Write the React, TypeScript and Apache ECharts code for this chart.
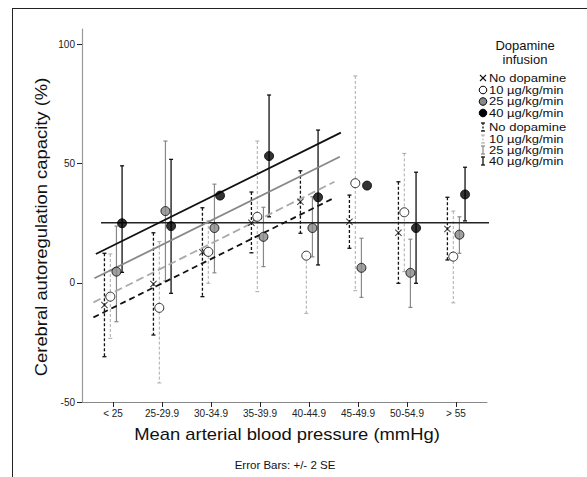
import React, { useEffect, useRef } from "react";
import * as echarts from "echarts";

const categories = ["< 25", "25-29.9", "30-34.9", "35-39.9", "40-44.9", "45-49.9", "50-54.9", "> 55"];

const noDop = [-9.3, -0.5, 12.8, 25.2, 34, 25.6, 21, 22.6];
const noDopLow = [-31, -21.9, -5.8, 12.6, 20.8, 14.5, -0.2, 9.6];
const noDopHigh = [12.4, 21, 31.5, 38.1, 47, 36.8, 42.4, 35.9];

const dop10 = [-5.8, -10.5, 13, 27.7, 11.4, 41.8, 29.6, 11];
const dop10Low = [-23.3, -42, -0.2, -3.7, -12.8, -3.3, 4.7, -8.4];
const dop10High = [12.1, 17.3, 26, 59.5, 11.4, 86.8, 54.3, 30.1];

const dop25 = [4.7, 30.1, 23, 19.3, 23, 6.3, 4.2, 20.2];
const dop25Low = [-16.3, 0.8, 4.2, 6.8, 10.9, -6.1, -10.3, 12.4];
const dop25High = [23.8, 59.5, 41.4, 31.7, 36.1, 18.7, 18.3, 27.7];

const dop40 = [25, 23.8, 36.6, 53.2, 35.9, 40.8, 23, 37.1];
const dop40Low: (number | null)[] = [4.4, -4.4, null, 27.7, 7.5, null, -0.2, 26];
const dop40High: (number | null)[] = [49.1, 51.8, null, 78.8, 64.1, null, 46.4, 48.5];

// fit lines: [x (category index), y]
const fitNoDop = [[-0.4, -14.5], [4.52, 35.7]];
const fit10 = [[-0.4, -8.2], [4.52, 42.4]];
const fit25 = [[-0.38, 1.9], [4.63, 52.9]];
const fit40 = [[-0.35, 12.1], [4.65, 63]];
const refLine = [[-0.245, 25.2], [8.0, 25.2]];

const offsets = [-0.175, -0.055, 0.07, 0.185];

const yTicks = [-50, 0, 50, 100];

const FONT = "'Liberation Sans', Arial, sans-serif";

export default function App() {
  const ref = useRef<HTMLDivElement>(null);
  useEffect(() => {
    document.body.style.margin = "0";
    const chart = echarts.init(ref.current!, null, { renderer: "svg" });

    const pts = (vals: number[], k: number) => vals.map((v, i) => [i + offsets[k], v]);
    const bars = (lo: (number | null)[], hi: (number | null)[], k: number) =>
      lo
        .map((l, i) => (l == null || hi[i] == null ? null : [i + offsets[k], l, hi[i]]))
        .filter((d) => d != null);

    const errSeries = (data: any[], stroke: string, lineWidth: number, dash: number[] | null) => ({
      type: "custom",
      z: 2,
      clip: false,
      data,
      encode: { x: 0, y: [1, 2] },
      renderItem: (params: any, api: any) => {
        const x = api.value(0);
        const lo = api.value(1);
        const hi = api.value(2);
        const pTop = api.coord([x, hi]);
        const pBot = api.coord([x, lo]);
        const st: any = { stroke, lineWidth, fill: "none" };
        if (dash) st.lineDash = dash;
        const capSt: any = { stroke, lineWidth };
        return {
          type: "group",
          children: [
            { type: "line", shape: { x1: pTop[0], y1: pTop[1], x2: pBot[0], y2: pBot[1] }, style: st },
            { type: "line", shape: { x1: pTop[0] - 2, y1: pTop[1], x2: pTop[0] + 2, y2: pTop[1] }, style: capSt },
            { type: "line", shape: { x1: pBot[0] - 2, y1: pBot[1], x2: pBot[0] + 2, y2: pBot[1] }, style: capSt },
          ],
        };
      },
    });

    const lineSeries = (data: number[][], color: string, width: number, dash: any) => ({
      type: "line",
      z: 3,
      clip: false,
      data,
      symbol: "none",
      lineStyle: { color, width, type: dash },
    });

    const crossPath =
      "path://M0,1 L1,0 L5,4 L9,0 L10,1 L6,5 L10,9 L9,10 L5,6 L1,10 L0,9 L4,5 Z";

    const legendRowsA = [78, 90, 101.5, 113];
    const legendRowsB = [127, 139, 150, 161];
    const legendLabels = ["No dopamine", "10 µg/kg/min", "25 µg/kg/min", "40 µg/kg/min"];
    const sx = 483;
    const tx = 489;

    const barStyles = [
      { stroke: "#111", lineWidth: 1.3, lineDash: [3, 2] },
      { stroke: "#aaa", lineWidth: 1, lineDash: [3, 2] },
      { stroke: "#888", lineWidth: 1.2 },
      { stroke: "#111", lineWidth: 1.3 },
    ];

    const graphics: any[] = [
      { type: "line", shape: { x1: 13, y1: 8.5, x2: 587, y2: 8.5 }, style: { stroke: "#222", lineWidth: 1 } },
      { type: "line", shape: { x1: 12.5, y1: 8, x2: 12.5, y2: 477 }, style: { stroke: "#222", lineWidth: 1 } },
      {
        type: "text",
        x: 41,
        y: 227,
        rotation: Math.PI / 2,
        scaleX: 1.15,
        style: {
          text: "Cerebral autoregulation capacity (%)",
          font: `16px ${FONT}`,
          fill: "#111",
          align: "center",
          verticalAlign: "middle",
        },
      },
      {
        type: "text",
        x: 287,
        y: 434,
        scaleX: 1.15,
        style: {
          text: "Mean arterial blood pressure (mmHg)",
          font: `16px ${FONT}`,
          fill: "#111",
          align: "center",
          verticalAlign: "middle",
        },
      },
      {
        type: "text",
        x: 285,
        y: 465,
        style: { text: "Error Bars: +/- 2 SE", font: `11.5px ${FONT}`, fill: "#111", align: "center", verticalAlign: "middle" },
      },
      {
        type: "text",
        x: 525,
        y: 45,
        style: { text: "Dopamine", font: `13px ${FONT}`, fill: "#111", align: "center", verticalAlign: "middle" },
      },
      {
        type: "text",
        x: 525,
        y: 59,
        style: { text: "infusion", font: `13px ${FONT}`, fill: "#111", align: "center", verticalAlign: "middle" },
      },
    ];

    legendLabels.forEach((lab, k) => {
      const y = legendRowsA[k];
      graphics.push({
        type: "text",
        x: tx,
        y,
        scaleX: 1.18,
        style: { text: lab, font: `11px ${FONT}`, fill: "#111", align: "left", verticalAlign: "middle" },
      });
      const y2 = legendRowsB[k];
      graphics.push({
        type: "text",
        x: tx,
        y: y2,
        scaleX: 1.18,
        style: { text: lab, font: `11px ${FONT}`, fill: "#111", align: "left", verticalAlign: "middle" },
      });
      if (k === 0) {
        graphics.push({ type: "line", shape: { x1: sx - 3, y1: y - 3, x2: sx + 3, y2: y + 3 }, style: { stroke: "#111", lineWidth: 1.1 } });
        graphics.push({ type: "line", shape: { x1: sx - 3, y1: y + 3, x2: sx + 3, y2: y - 3 }, style: { stroke: "#111", lineWidth: 1.1 } });
      } else {
        const fill = k === 1 ? "#fff" : k === 2 ? "#888" : "#000";
        graphics.push({ type: "circle", shape: { cx: sx, cy: y, r: 3.8 }, style: { fill, stroke: "#000", lineWidth: 1 } });
      }
      const bs: any = barStyles[k];
      const vst: any = { stroke: bs.stroke, lineWidth: bs.lineWidth };
      if (bs.lineDash) vst.lineDash = [2, 1.5];
      graphics.push({ type: "line", shape: { x1: sx, y1: y2 - 4, x2: sx, y2: y2 + 4 }, style: vst });
      graphics.push({ type: "line", shape: { x1: sx - 2, y1: y2 - 4, x2: sx + 2, y2: y2 - 4 }, style: { stroke: bs.stroke, lineWidth: bs.lineWidth } });
      graphics.push({ type: "line", shape: { x1: sx - 2, y1: y2 + 4, x2: sx + 2, y2: y2 + 4 }, style: { stroke: bs.stroke, lineWidth: bs.lineWidth } });
    });

    const tickVals = categories.map((_, i) => i);

    chart.setOption({
      animation: false,
      backgroundColor: "#fff",
      grid: { left: 82, right: 100, top: 29, bottom: 75 },
      xAxis: {
        type: "value",
        min: -0.633,
        max: 7.633,
        splitLine: { show: false },
        axisLine: { show: true, onZero: false, lineStyle: { color: "#888", width: 1 } },
        axisTick: { show: true, customValues: tickVals, length: 5, lineStyle: { color: "#222", width: 1 } },
        axisLabel: {
          show: true,
          customValues: tickVals,
          formatter: (v: number) => categories[Math.round(v)] ?? "",
          fontSize: 10,
          color: "#222",
          fontFamily: FONT,
          margin: 6,
        },
      },
      yAxis: {
        type: "value",
        min: -50,
        max: 106.5,
        interval: 50,
        splitLine: { show: false },
        axisLine: { show: true, onZero: false, lineStyle: { color: "#999", width: 1.2 } },
        axisTick: { show: true, customValues: yTicks, length: 5, lineStyle: { color: "#222", width: 1 } },
        axisLabel: {
          customValues: yTicks,
          fontSize: 10,
          color: "#222",
          fontFamily: FONT,
          margin: 7,
        },
      },
      graphic: graphics,
      series: [
        errSeries(bars(noDopLow, noDopHigh, 0), "#111", 1.3, [3, 2]),
        errSeries(bars(dop10Low, dop10High, 1), "#aaa", 1, [3, 2]),
        errSeries(bars(dop25Low, dop25High, 2), "#888", 1.2, null),
        errSeries(bars(dop40Low, dop40High, 3), "#111", 1.3, null),
        lineSeries(refLine, "#222", 1.3, "solid"),
        lineSeries(fitNoDop, "#111", 1.8, [6, 4]),
        lineSeries(fit10, "#aaa", 1.8, [8, 4]),
        lineSeries(fit25, "#888", 1.8, "solid"),
        lineSeries(fit40, "#111", 1.8, "solid"),
        {
          type: "scatter",
          z: 4,
          data: pts(noDop, 0),
          symbol: crossPath,
          symbolSize: 7,
          itemStyle: { color: "#111" },
        },
        {
          type: "scatter",
          z: 4,
          data: pts(dop10, 1),
          symbol: "circle",
          symbolSize: 9,
          itemStyle: { color: "#fff", borderColor: "#000", borderWidth: 1 },
        },
        {
          type: "scatter",
          z: 4,
          data: pts(dop25, 2),
          symbol: "circle",
          symbolSize: 9,
          itemStyle: { color: "#888", borderColor: "#000", borderWidth: 1 },
        },
        {
          type: "scatter",
          z: 4,
          data: pts(dop40, 3),
          symbol: "circle",
          symbolSize: 9,
          itemStyle: { color: "#000", borderColor: "#000", borderWidth: 1 },
        },
      ],
    });
    return () => chart.dispose();
  }, []);
  return <div ref={ref} style={{ width: 587, height: 477 }} />;
}
